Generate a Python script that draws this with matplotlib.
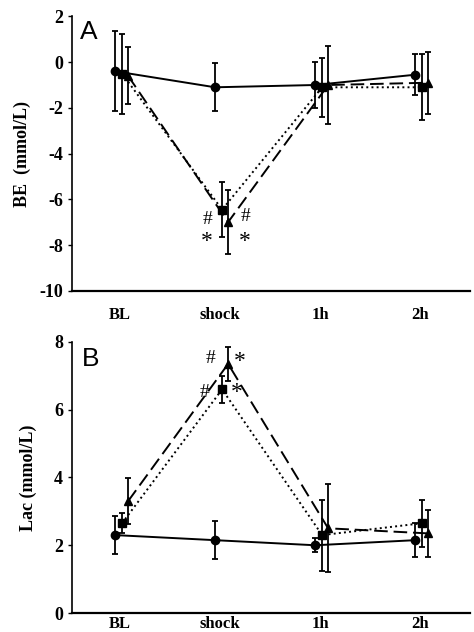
import matplotlib.pyplot as plt

plt.rcParams['font.family'] = ['Liberation Serif', 'DejaVu Serif']
plt.rcParams['axes.unicode_minus'] = False

times = ['BL', 'shock', '1h', '2h']

# panel A: base excess (mmol/L)
be_circle = [-0.4, -1.1, -1.0, -0.55]
be_circle_err = [1.75, 1.05, 1.0, 0.9]
be_square = [-0.5, -6.45, -1.1, -1.1]
be_square_err = [1.75, 1.2, 1.3, 1.45]
be_triangle = [-0.6, -7.0, -1.0, -0.9]
be_triangle_err = [1.25, 1.4, 1.7, 1.35]

# panel B: lactate (mmol/L)
lac_circle = [2.3, 2.15, 2.0, 2.15]
lac_circle_err = [0.55, 0.57, 0.2, 0.5]
lac_square = [2.65, 6.6, 2.3, 2.65]
lac_square_err = [0.3, 0.4, 1.05, 0.7]
lac_triangle = [3.3, 7.35, 2.5, 2.35]
lac_triangle_err = [0.67, 0.5, 1.3, 0.7]

offsets = [-0.05, 0.02, 0.08]
x = [1, 2, 3, 4]

fig = plt.figure(figsize=(4.74, 6.32), dpi=100)
axA = fig.add_axes([0.152, 0.540, 0.840, 0.434])
axB = fig.add_axes([0.152, 0.030, 0.840, 0.429])


def draw(ax, ys, errs):
    styles = [('o', '-'), ('s', ':'), ('^', (0, (7, 3)))]
    for (m, ls), off, y, e in zip(styles, offsets, ys, errs):
        xs = [v + off for v in x]
        ax.errorbar(xs, y, yerr=e, color='black', marker=m, markersize=6,
                    linestyle=ls, linewidth=1.4, elinewidth=1.3,
                    capsize=2.5, capthick=1.3)
    ax.set_xlim(0.52, 4.5)
    ax.set_xticks(x)
    ax.set_xticklabels(times, fontsize=12, fontweight='bold')
    ax.tick_params(axis='x', length=0)
    ax.tick_params(axis='y', length=3, width=1, labelsize=13, direction='out')
    ax.spines['top'].set_visible(False)
    ax.spines['right'].set_visible(False)
    ax.spines['left'].set_linewidth(1.2)
    ax.spines['bottom'].set_linewidth(1.6)


draw(axA, [be_circle, be_square, be_triangle],
     [be_circle_err, be_square_err, be_triangle_err])
axA.set_ylim(-10, 2)
axA.set_yticks([-10, -8, -6, -4, -2, 0, 2])
for lab in axA.get_yticklabels():
    lab.set_fontweight('bold')
axA.tick_params(axis='x', pad=12)
axA.set_ylabel('BE  (mmol/L)', fontsize=13, fontweight='bold', labelpad=6)
axA.text(0.6, 1.3, 'A', fontsize=19, family='Liberation Sans', va='center')
axA.text(1.87, -6.9, '#', fontsize=14, ha='center', va='center')
axA.text(1.87, -7.85, '*', fontsize=17, ha='center', va='center')
axA.text(2.25, -6.75, '#', fontsize=14, ha='center', va='center')
axA.text(2.25, -7.85, '*', fontsize=17, ha='center', va='center')

draw(axB, [lac_circle, lac_square, lac_triangle],
     [lac_circle_err, lac_square_err, lac_triangle_err])
axB.set_ylim(0, 8)
axB.set_yticks([0, 2, 4, 6, 8])
for lab in axB.get_yticklabels():
    lab.set_fontweight('bold')
axB.tick_params(axis='x', pad=2)
axB.set_ylabel('Lac (mmol/L)', fontsize=13, fontweight='bold', labelpad=12)
axB.text(0.62, 7.5, 'B', fontsize=19, family='Liberation Sans', va='center')
axB.text(1.9, 7.5, '#', fontsize=14, ha='center', va='center')
axB.text(2.2, 7.43, '*', fontsize=17, ha='center', va='center')
axB.text(1.84, 6.5, '#', fontsize=14, ha='center', va='center')
axB.text(2.17, 6.5, '*', fontsize=17, ha='center', va='center')

fig.savefig('out.png', dpi=100)
